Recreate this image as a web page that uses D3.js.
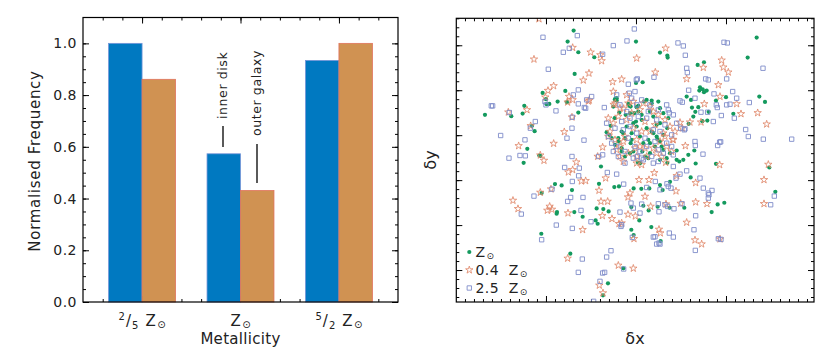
<!DOCTYPE html>
<html>
<head>
<meta charset="utf-8">
<script src="https://cdn.jsdelivr.net/npm/d3@7"></script>
<style>
body { margin: 0; background: #fff; }
text { font-family: "DejaVu Sans", sans-serif; fill: #222; }
</style>
</head>
<body>
<div id="chart"></div>
<script>
// ---- left panel: normalised frequency per metallicity ----
var groups = [1, 2, 3];
var innerDisk = [1.0, 0.573, 0.934];
var outerGalaxy = [0.861, 0.431, 1.0];
var yTicks = [0.0, 0.2, 0.4, 0.6, 0.8, 1.0];

// ---- right panel: offsets [dx, dy] (arbitrary units) ----
var solarPts = [[-187,314],[-205,281],[-173,249],[-125,234],[0,281],[72,248],[94,239],[95,233],[362,293],[335,233],[204,219],[185,211],[-184,184],[20,159],[0,157],[-212,133],[-280,127],[-270,108],[-268,93],[-260,94],[-235,101],[-207,99],[-173,68],[-453,61],[-374,57],[-335,88],[-340,65],[-312,28],[-304,12],[-326,-41],[-337,-83],[-290,-61],[370,116],[387,100],[292,64],[400,-97],[418,-170],[265,-203],[245,-208],[227,-231],[240,-86],[164,-127],[179,-85],[130,-79],[94,-83],[175,-46],[192,144],[200,138],[190,134],[212,134],[204,129],[165,106],[152,116],[168,83],[178,70],[158,34],[172,56],[199,42],[218,70],[240,104],[270,114],[187,84],[214,44],[-63,108],[-58,104],[-20,88],[7,88],[24,101],[47,104],[72,81],[42,71],[-5,66],[-31,61],[-64,51],[-76,28],[-88,9],[-73,-9],[-52,-19],[-43,-39],[-33,-64],[-8,-49],[6,-82],[19,-49],[42,-24],[64,-12],[82,1],[94,21],[97,51],[62,31],[32,21],[12,-4],[-13,6],[-28,26],[0,41],[52,56],[77,-34],[-43,11],[42,-54],[-16,-24],[17,61],[-50,68],[2,26],[52,6],[-33,-9],[27,-64],[-68,86],[-105,-94],[-111,-146],[-65,-156],[-51,-154],[-7,-160],[16,-161],[40,-160],[80,-165],[102,-140],[72,-150],[-118,-220],[-98,-222],[-82,-229],[-121,-256],[-115,-266],[-185,-231],[-237,-231],[-160,-245],[-243,-147],[-223,-151],[-192,-165],[-283,-174],[-284,-296],[-197,-356],[-38,-400],[-84,-445],[-99,-481],[38,-226],[22,-212],[65,-215],[101,-218],[145,-218],[-14,-284],[-7,-300],[46,-276],[74,-318],[10,-256],[-14,-216],[-238,-236],[-287,-62],[122,-46],[-80,1],[-63,106],[-58,111],[-23,94],[-16,86],[2,84],[7,71],[-18,66],[-8,36],[17,46],[47,11],[62,-4],[72,-19],[57,-34],[82,-44],[92,-69],[72,-74],[37,-69],[12,-84],[-18,-54],[-43,-49],[-63,-29],[-53,-9],[-38,6],[-13,-14],[22,-24],[37,-14],[72,36],[82,66],[47,96],[32,106],[67,101],[102,-54],[122,-74],[142,-74],[157,-59]];

var lowZPts = [[-291,349],[-306,228],[-190,263],[-136,249],[-103,223],[-107,241],[2,231],[89,261],[58,189],[-43,168],[-70,160],[-141,186],[-158,165],[-247,148],[-264,134],[-201,116],[-327,76],[-383,69],[-316,28],[-247,-25],[-215,10],[-192,54],[-190,106],[-352,-32],[-276,-76],[-287,-60],[-100,-36],[-115,-64],[-67,92],[-37,80],[152,169],[202,203],[257,225],[262,204],[277,189],[132,38],[139,21],[205,94],[247,151],[252,116],[302,94],[315,64],[365,67],[392,33],[397,-88],[384,-134],[384,-206],[251,-89],[252,-312],[177,-315],[197,-327],[179,-201],[213,-206],[152,-262],[134,-205],[120,-168],[122,-122],[179,-143],[110,-13],[148,-32],[90,-207],[27,-184],[9,-134],[-18,-174],[-2,-243],[69,-283],[73,-294],[-24,-238],[-72,-251],[-101,-242],[-111,-166],[-105,-199],[-85,-199],[-160,-284],[-164,-138],[-151,-137],[-179,-81],[-190,-104],[-203,-111],[-255,-162],[-259,-214],[-266,-226],[-369,-196],[-354,-221],[-287,-172],[-205,-370],[-110,-451],[-99,-474],[-53,-391],[-8,-400],[55,-113],[89,-82],[-48,81],[-23,96],[12,76],[42,86],[67,61],[87,46],[102,26],[87,-4],[72,-19],[52,-39],[32,-64],[2,-64],[-23,-54],[-48,-34],[-63,-14],[-78,11],[-68,36],[-53,56],[-28,46],[-8,21],[17,11],[42,11],[57,31],[27,41],[2,-14],[-33,-4],[12,-34],[92,-34],[107,-49],[-48,-64],[-83,51],[-8,101],[112,-14],[-143,102],[-140,105],[-272,114],[-205,99],[-62,96],[162,39],[195,39],[39,-134],[-6,-311],[17,-89],[44,-214],[-91,-129],[-51,-266],[-43,-264],[-204,-234],[-252,-223],[-24,-186],[-38,-19],[-3,-39],[27,-39],[62,-54],[-58,-44],[82,6],[-13,66],[22,96],[52,71],[-83,-4],[117,11],[-28,121],[-68,131],[77,-64],[2,-84],[-38,-79]];

var highZPts = [[-279,294],[-5,319],[-68,269],[-27,283],[-218,249],[-200,261],[-100,243],[-263,198],[126,277],[142,268],[148,240],[152,201],[154,188],[264,279],[274,277],[381,201],[54,174],[1,166],[4,169],[-20,126],[-173,136],[-188,121],[-133,116],[-148,106],[-173,94],[-155,83],[-151,81],[-95,83],[-240,73],[-273,101],[-434,88],[-430,88],[-380,68],[-302,41],[-317,21],[-406,-1],[-333,-14],[-348,-61],[-332,-62],[-381,-69],[-192,21],[-207,-9],[-156,-15],[-112,-64],[-214,-97],[-192,-64],[-170,-99],[-172,-122],[-191,-139],[-86,-112],[-58,-117],[-37,-147],[32,-157],[58,-139],[93,-146],[72,-164],[132,-117],[152,-107],[178,-31],[201,-57],[192,-129],[217,-174],[228,-166],[254,-20],[329,17],[337,-4],[382,-12],[467,-12],[415,-183],[404,-209],[340,98],[302,111],[295,51],[256,59],[232,41],[195,69],[177,111],[132,103],[209,169],[217,166],[234,124],[272,169],[290,131],[174,-284],[178,-346],[112,-306],[52,-306],[69,-324],[-15,-204],[-8,-219],[-48,-231],[-43,-269],[-45,-274],[-11,-307],[12,-234],[67,-206],[69,-230],[114,-221],[138,-206],[179,-242],[-159,-187],[-165,-226],[-205,-199],[-196,-187],[-252,-162],[-306,-183],[-283,-314],[-239,-270],[-191,-280],[-135,-260],[-161,-372],[-173,-412],[-75,-347],[-88,-366],[-108,-439],[-127,-499],[-37,-402],[-176,299],[-23,153],[-270,91],[-191,54],[251,-21],[245,-31],[241,91],[244,83],[215,69],[158,135],[139,99],[100,67],[134,21],[147,19],[272,91],[282,93],[202,-159],[219,-179],[217,-189],[57,-305],[62,-327],[72,-327],[100,-294],[247,-311],[255,-313],[95,-214],[87,-209],[4,-64],[17,-69],[67,-79],[112,-94],[120,-129],[97,-154],[105,-159],[17,-207],[-344,-237],[-100,-414],[-94,-412],[-48,91],[-13,111],[17,106],[42,91],[67,76],[97,76],[112,61],[87,31],[107,1],[92,-24],[67,-44],[47,-64],[22,-74],[-8,-69],[-33,-49],[-58,-34],[-73,-24],[-83,-4],[-63,21],[-43,41],[-18,51],[7,56],[32,51],[52,16],[27,-9],[2,6],[-23,-9],[-38,16],[12,-49],[72,11],[112,-59],[-100,-59],[145,16],[177,-19],[-28,71],[2,91],[57,-19],[82,-54],[-53,-64],[-88,36],[-3,-34],[32,-34],[-18,26],[37,71],[62,46],[-68,-49],[122,36],[92,91],[-33,-84],[52,-84],[107,-34],[-3,131],[-58,121]];

var blue = "#0079c1", orange = "#d09252";
var green = "#149a5e", starCol = "#e0896b", squareCol = "#7f8cca";

var svg = d3.select("#chart").append("svg")
    .attr("width", 830)
    .attr("height", 356);

// ================= left panel =================
var x1 = d3.scaleLinear().domain([0.4, 3.6]).range([83, 398]);
var y1 = d3.scaleLinear().domain([0, 1.1]).range([302, 17.5]);
var barW = 0.34;

var left = svg.append("g");

function inwardTicks(g, axisFn, scale, values, size, transform) {
    g.append("g")
        .attr("transform", transform)
        .call(axisFn(scale).tickValues(values).tickSize(-size).tickSizeOuter(0).tickFormat(""))
        .call(function (a) { a.select(".domain").remove(); a.selectAll("line").attr("stroke", "#000"); });
}

var yMinor = d3.range(0, 21).map(function (i) { return i * 0.05; }).filter(function (v) { return v < 1.1; });
var xMinor = d3.range(0, 15).map(function (i) { return 0.6 + i * 0.2; });

inwardTicks(left, d3.axisLeft, y1, yMinor, 3, "translate(83,0)");
inwardTicks(left, d3.axisRight, y1, yMinor, 3, "translate(398,0)");
inwardTicks(left, d3.axisRight, y1, yTicks, 6, "translate(398,0)");
inwardTicks(left, d3.axisTop, x1, xMinor, 3, "translate(0,17.5)");
inwardTicks(left, d3.axisTop, x1, groups, 6, "translate(0,17.5)");
inwardTicks(left, d3.axisBottom, x1, xMinor, 3, "translate(0,302)");
inwardTicks(left, d3.axisBottom, x1, groups, 6, "translate(0,302)");

left.append("g")
    .attr("transform", "translate(83,0)")
    .call(d3.axisLeft(y1).tickValues(yTicks).tickSize(-6).tickSizeOuter(0).tickPadding(6).tickFormat(d3.format(".1f")))
    .call(function (a) {
        a.select(".domain").remove();
        a.selectAll("line").attr("stroke", "#000");
        a.selectAll("text").attr("font-size", 14).attr("font-family", "DejaVu Sans")
            .attr("fill", "#222").attr("letter-spacing", 0.5);
    });

left.selectAll(".inner").data(innerDisk).enter().append("rect")
    .attr("x", function (d, i) { return x1(groups[i] - barW); })
    .attr("width", function (d, i) { return x1(groups[i]) - x1(groups[i] - barW); })
    .attr("y", function (d) { return y1(d); })
    .attr("height", function (d) { return y1(0) - y1(d); })
    .attr("fill", blue)
    .attr("stroke", "#7494d8")
    .attr("stroke-width", 0.8);

left.selectAll(".outer").data(outerGalaxy).enter().append("rect")
    .attr("x", function (d, i) { return x1(groups[i]); })
    .attr("width", function (d, i) { return x1(groups[i] + barW) - x1(groups[i]); })
    .attr("y", function (d) { return y1(d); })
    .attr("height", function (d) { return y1(0) - y1(d); })
    .attr("fill", orange)
    .attr("stroke", "#e0735c")
    .attr("stroke-width", 0.8);

left.append("rect")
    .attr("x", 83).attr("y", 17.5).attr("width", 315).attr("height", 284.5)
    .attr("fill", "none").attr("stroke", "#000").attr("stroke-width", 1.2);

// annotations
function vLabel(g, label, xPos, yStart, lineFrom, lineTo, lineX) {
    g.append("text")
        .attr("transform", "translate(" + xPos + "," + yStart + ") rotate(-90)")
        .attr("font-size", 12.5)
        .attr("letter-spacing", 0.6)
        .text(label);
    g.append("line")
        .attr("x1", lineX).attr("x2", lineX)
        .attr("y1", lineFrom).attr("y2", lineTo)
        .attr("stroke", "#000").attr("stroke-width", 1.3);
}
vLabel(left, "inner disk", 227, 119, 126, 147, 223);
vLabel(left, "outer galaxy", 261, 136, 144, 183, 257);

// x tick labels
var sunSub = "\u2299";
function zLabel(g, cx, pre) {
    var t = g.append("text").attr("x", cx).attr("y", 326)
        .attr("text-anchor", "middle").attr("font-size", 15);
    if (pre) {
        t.append("tspan").attr("font-size", 10).attr("dy", -6).text(pre[0]);
        t.append("tspan").attr("font-size", 15).attr("dy", 6).attr("dx", 1).text("/");
        t.append("tspan").attr("font-size", 10).attr("dy", 3).attr("dx", 1).text(pre[1]);
        t.append("tspan").attr("dy", -3).attr("dx", 7).text("Z");
    } else {
        t.append("tspan").text("Z");
    }
    t.append("tspan").attr("font-size", 10).attr("dy", 2).attr("dx", 1.5).text(sunSub);
}
zLabel(left, x1(1), ["2", "5"]);
zLabel(left, x1(2), null);
zLabel(left, x1(3), ["5", "2"]);

left.append("text").attr("x", x1(2)).attr("y", 344)
    .attr("text-anchor", "middle").attr("font-size", 15).attr("letter-spacing", 0.3)
    .text("Metallicity");

left.append("text")
    .attr("transform", "translate(40,161) rotate(-90)")
    .attr("text-anchor", "middle").attr("font-size", 15).attr("letter-spacing", 0.7)
    .text("Normalised Frequency");

// ================= right panel =================
var x2 = d3.scaleLinear().domain([-539, 534]).range([456.3, 814]);
var y2 = d3.scaleLinear().domain([-501, 351]).range([302, 18.3]);

var right = svg.append("g");

var sxMinor = d3.range(-19, 20).map(function (i) { return i * 27; });
var sxMajor = [-270, 0, 270];
var syMinor = d3.range(-18, 14).map(function (i) { return i * 27; });
var syMajor = [-405, -270, -135, 0, 135, 270];

inwardTicks(right, d3.axisLeft, y2, syMinor, 3, "translate(456.3,0)");
inwardTicks(right, d3.axisLeft, y2, syMajor, 6, "translate(456.3,0)");
inwardTicks(right, d3.axisRight, y2, syMinor, 3, "translate(814,0)");
inwardTicks(right, d3.axisRight, y2, syMajor, 6, "translate(814,0)");
inwardTicks(right, d3.axisTop, x2, sxMinor, 3, "translate(0,18.3)");
inwardTicks(right, d3.axisTop, x2, sxMajor, 6, "translate(0,18.3)");
inwardTicks(right, d3.axisBottom, x2, sxMinor, 3, "translate(0,302)");
inwardTicks(right, d3.axisBottom, x2, sxMajor, 6, "translate(0,302)");

svg.append("clipPath").attr("id", "clipR")
    .append("rect").attr("x", 456.3).attr("y", 18.3).attr("width", 357.7).attr("height", 283.7);

var pts = right.append("g").attr("clip-path", "url(#clipR)");

var starPath = d3.symbol().type(d3.symbolStar).size(17);
var squarePath = d3.symbol().type(d3.symbolSquare).size(19);

pts.selectAll(".solar").data(solarPts).enter().append("circle")
    .attr("cx", function (d) { return x2(d[0]); })
    .attr("cy", function (d) { return y2(d[1]); })
    .attr("r", 2.1)
    .attr("fill", green);

pts.selectAll(".lowz").data(lowZPts).enter().append("path")
    .attr("d", starPath)
    .attr("transform", function (d) { return "translate(" + x2(d[0]) + "," + y2(d[1]) + ")"; })
    .attr("fill", "none").attr("stroke", starCol).attr("stroke-width", 0.85);

pts.selectAll(".highz").data(highZPts).enter().append("path")
    .attr("d", squarePath)
    .attr("transform", function (d) { return "translate(" + x2(d[0]) + "," + y2(d[1]) + ")"; })
    .attr("fill", "none").attr("stroke", squareCol).attr("stroke-width", 0.9);

right.append("rect")
    .attr("x", 456.3).attr("y", 18.3).attr("width", 357.7).attr("height", 283.7)
    .attr("fill", "none").attr("stroke", "#000").attr("stroke-width", 1.2);

// legend
var legend = right.append("g");
legend.append("circle").attr("cx", 469.3).attr("cy", 252).attr("r", 2.1).attr("fill", green);
legend.append("path").attr("d", starPath).attr("transform", "translate(469.3,270)")
    .attr("fill", "none").attr("stroke", starCol).attr("stroke-width", 0.85);
legend.append("path").attr("d", squarePath).attr("transform", "translate(469.3,288)")
    .attr("fill", "none").attr("stroke", squareCol).attr("stroke-width", 0.9);

var legendRows = [["", 256.5], ["0.4  ", 274.5], ["2.5  ", 292.5]];
legendRows.forEach(function (r) {
    var t = legend.append("text").attr("x", 475.5).attr("y", r[1]).attr("font-size", 14)
        .attr("letter-spacing", 0.4).attr("xml:space", "preserve");
    t.append("tspan").text(r[0] + "Z");
    t.append("tspan").attr("font-size", 9).attr("dy", 2).attr("dx", 1).text(sunSub);
});

right.append("text")
    .attr("transform", "translate(436,160) rotate(-90)")
    .attr("text-anchor", "middle").attr("font-size", 16)
    .text("\u03b4y");
right.append("text")
    .attr("x", 635).attr("y", 344)
    .attr("text-anchor", "middle").attr("font-size", 16)
    .text("\u03b4x");
</script>
</body>
</html>
